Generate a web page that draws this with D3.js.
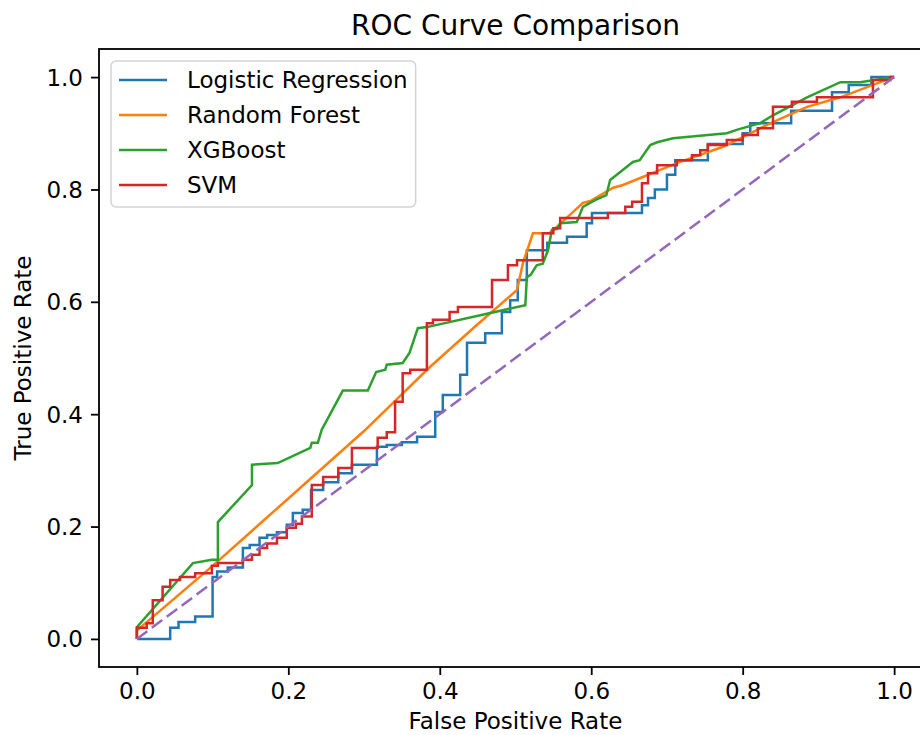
<!DOCTYPE html>
<html>
<head>
<meta charset="utf-8">
<script src="https://cdn.jsdelivr.net/npm/d3@7"></script>
<style>
  body { margin: 0; background: #fff; }
  text { font-family: "DejaVu Sans", sans-serif; fill: #000; }
</style>
</head>
<body>
<div class="canvas"></div>
<script>
// ROC points as [fpr, tpr]
const lrRoc = [[0,0],[0.044,0],[0.044,0.02],[0.055,0.02],[0.055,0.03],[0.077,0.03],[0.077,0.04],[0.1,0.04],[0.1,0.11],
  [0.106,0.11],[0.106,0.12],[0.12,0.12],[0.12,0.127],[0.14,0.127],[0.14,0.162],[0.149,0.162],[0.149,0.167],[0.162,0.167],
  [0.162,0.18],[0.172,0.18],[0.172,0.185],[0.185,0.185],[0.185,0.19],[0.198,0.19],[0.198,0.203],[0.206,0.203],[0.206,0.224],
  [0.219,0.224],[0.219,0.23],[0.23,0.23],[0.23,0.265],[0.246,0.265],[0.246,0.279],[0.266,0.279],[0.266,0.295],[0.284,0.295],
  [0.284,0.31],[0.317,0.31],[0.317,0.342],[0.33,0.342],[0.33,0.345],[0.35,0.345],[0.35,0.35],[0.37,0.35],[0.37,0.36],
  [0.394,0.36],[0.394,0.404],[0.404,0.404],[0.404,0.434],[0.427,0.434],[0.427,0.47],[0.436,0.47],[0.436,0.527],[0.46,0.527],
  [0.46,0.544],[0.482,0.544],[0.482,0.582],[0.493,0.582],[0.493,0.603],[0.503,0.603],[0.503,0.639],[0.515,0.639],[0.515,0.692],
  [0.542,0.692],[0.542,0.705],[0.568,0.705],[0.568,0.716],[0.594,0.716],[0.594,0.74],[0.601,0.74],[0.601,0.758],[0.667,0.758],
  [0.667,0.772],[0.675,0.772],[0.675,0.785],[0.684,0.785],[0.684,0.8],[0.70,0.8],[0.70,0.826],[0.711,0.826],[0.711,0.852],
  [0.754,0.852],[0.754,0.881],[0.80,0.881],[0.80,0.9],[0.81,0.9],[0.81,0.918],[0.864,0.918],[0.864,0.94],[0.918,0.94],
  [0.918,0.973],[0.94,0.973],[0.94,0.986],[0.97,0.986],[0.97,1],[1,1]];

const rfRoc = [[0,0],[0,0.015],[0.1,0.13],[0.2,0.25],[0.3,0.37],[0.387,0.484],[0.45,0.56],[0.502,0.621],[0.51,0.67],
  [0.523,0.722],[0.545,0.722],[0.56,0.74],[0.589,0.776],[0.6,0.78],[0.629,0.803],[0.642,0.808],[0.664,0.82],[0.691,0.835],
  [0.713,0.847],[0.774,0.876],[0.81,0.9],[0.84,0.92],[0.885,0.947],[0.929,0.964],[0.972,0.986],[1,1]];

const xgbRoc = [[0,0],[0,0.021],[0.074,0.135],[0.099,0.141],[0.107,0.141],[0.107,0.208],[0.152,0.274],[0.152,0.31],
  [0.186,0.313],[0.229,0.34],[0.231,0.349],[0.239,0.349],[0.244,0.372],[0.272,0.442],[0.305,0.442],[0.316,0.475],
  [0.328,0.479],[0.33,0.488],[0.351,0.491],[0.36,0.509],[0.371,0.553],[0.383,0.555],[0.513,0.594],[0.515,0.644],
  [0.52,0.648],[0.528,0.665],[0.536,0.668],[0.543,0.692],[0.548,0.728],[0.555,0.73],[0.559,0.74],[0.581,0.742],
  [0.589,0.769],[0.605,0.781],[0.62,0.79],[0.625,0.817],[0.655,0.849],[0.664,0.852],[0.678,0.879],[0.687,0.884],
  [0.708,0.891],[0.779,0.9],[0.792,0.906],[0.823,0.918],[0.84,0.932],[0.885,0.964],[0.929,0.991],[0.955,0.991],[1,1]];

const svmRoc = [[0,0],[0,0.02],[0.013,0.02],[0.013,0.028],[0.021,0.028],[0.021,0.069],[0.034,0.069],[0.034,0.093],
  [0.044,0.093],[0.044,0.105],[0.057,0.105],[0.057,0.11],[0.077,0.11],[0.077,0.117],[0.099,0.117],[0.099,0.13],
  [0.107,0.13],[0.107,0.135],[0.14,0.135],[0.14,0.141],[0.152,0.141],[0.152,0.15],[0.162,0.15],[0.162,0.162],
  [0.172,0.162],[0.172,0.17],[0.185,0.17],[0.185,0.18],[0.198,0.18],[0.198,0.198],[0.21,0.198],[0.21,0.205],
  [0.218,0.205],[0.218,0.218],[0.231,0.218],[0.231,0.274],[0.246,0.274],[0.246,0.288],[0.266,0.288],[0.266,0.304],
  [0.284,0.304],[0.284,0.34],[0.318,0.34],[0.318,0.358],[0.33,0.358],[0.33,0.368],[0.341,0.368],[0.341,0.422],
  [0.351,0.422],[0.351,0.473],[0.361,0.473],[0.361,0.479],[0.383,0.479],[0.383,0.562],[0.391,0.562],[0.391,0.568],
  [0.413,0.568],[0.413,0.582],[0.424,0.582],[0.424,0.591],[0.469,0.591],[0.469,0.639],[0.49,0.639],[0.49,0.665],
  [0.502,0.665],[0.502,0.674],[0.536,0.674],[0.536,0.722],[0.55,0.722],[0.55,0.731],[0.559,0.731],[0.559,0.749],
  [0.622,0.749],[0.622,0.758],[0.645,0.758],[0.645,0.769],[0.654,0.769],[0.654,0.778],[0.667,0.778],[0.667,0.811],
  [0.675,0.811],[0.675,0.829],[0.687,0.829],[0.687,0.843],[0.713,0.843],[0.713,0.852],[0.733,0.852],[0.733,0.861],
  [0.744,0.861],[0.744,0.87],[0.754,0.87],[0.754,0.879],[0.779,0.879],[0.779,0.888],[0.80,0.888],[0.80,0.897],
  [0.82,0.897],[0.82,0.909],[0.84,0.909],[0.84,0.947],[0.865,0.947],[0.865,0.956],[0.898,0.956],[0.898,0.964],
  [0.972,0.964],[0.972,0.995],[0.995,0.995],[0.995,1],[1,1]];

const chanceLine = [[0,0],[1,1]];

const modelNames = ['Logistic Regression', 'Random Forest', 'XGBoost', 'SVM'];
const modelCurves = [lrRoc, rfRoc, xgbRoc, svmRoc];
const modelColors = ['#1f77b4', '#ff7f0e', '#2ca02c', '#d62728'];
const xTicks = [0, 0.2, 0.4, 0.6, 0.8, 1.0];
const yTicks = [0, 0.2, 0.4, 0.6, 0.8, 1.0];

const svgWidth = 920;
const svgHeight = 735;
const fs = 23;       // tick / label font size
const lw = 2.5;      // line width

// axes box (right spine falls just outside the picture, as in the reference)
const box = { left: 99, right: 932, top: 49, bottom: 667 };

const x = d3.scaleLinear().domain([-0.05, 1.05]).range([box.left, box.right]);
const y = d3.scaleLinear().domain([-0.05, 1.05]).range([box.bottom, box.top]);

const svg = d3.select('.canvas').append('svg')
  .attr('width', svgWidth)
  .attr('height', svgHeight);

svg.append('defs').append('clipPath').attr('id', 'clip')
  .append('rect')
  .attr('x', box.left).attr('y', box.top)
  .attr('width', box.right - box.left).attr('height', box.bottom - box.top);

const line = d3.line().x(d => x(d[0])).y(d => y(d[1]));

const plot = svg.append('g').attr('clip-path', 'url(#clip)');

modelCurves.forEach((curve, i) => {
  plot.append('path')
    .datum(curve)
    .attr('d', line)
    .attr('fill', 'none')
    .attr('stroke', modelColors[i])
    .attr('stroke-width', lw)
    .attr('stroke-linejoin', 'miter')
    .attr('stroke-linecap', 'butt');
});

plot.append('path')
  .datum(chanceLine)
  .attr('d', line)
  .attr('fill', 'none')
  .attr('stroke', '#9467bd')
  .attr('stroke-width', lw)
  .attr('stroke-dasharray', '13,5.6');

// axes
const xAxis = d3.axisBottom(x).tickValues(xTicks).tickFormat(d3.format('.1f'))
  .tickSize(8).tickPadding(6).tickSizeOuter(0);
const yAxis = d3.axisLeft(y).tickValues(yTicks).tickFormat(d3.format('.1f'))
  .tickSize(8).tickPadding(8).tickSizeOuter(0);

const xAxisGroup = svg.append('g').attr('transform', `translate(0, ${box.bottom})`).call(xAxis);
const yAxisGroup = svg.append('g').attr('transform', `translate(${box.left}, 0)`).call(yAxis);

[xAxisGroup, yAxisGroup].forEach(g => {
  g.select('.domain').remove();
  g.selectAll('.tick line').attr('stroke', '#000').attr('stroke-width', 1.8);
  g.selectAll('.tick text')
    .attr('font-family', '"DejaVu Sans", sans-serif')
    .attr('font-size', fs)
    .attr('fill', '#000');
});
xAxisGroup.selectAll('.tick text').attr('dy', '0.71em').attr('y', 16);
yAxisGroup.selectAll('.tick text').attr('dy', '0.35em');

// spines
svg.append('rect')
  .attr('x', box.left).attr('y', box.top)
  .attr('width', box.right - box.left).attr('height', box.bottom - box.top)
  .attr('fill', 'none')
  .attr('stroke', '#000')
  .attr('stroke-width', 1.8);

// title and labels
svg.append('text')
  .attr('x', (box.left + box.right) / 2)
  .attr('y', 35)
  .attr('text-anchor', 'middle')
  .attr('font-size', 28)
  .text('ROC Curve Comparison');

svg.append('text')
  .attr('x', (box.left + box.right) / 2)
  .attr('y', 729)
  .attr('text-anchor', 'middle')
  .attr('font-size', fs)
  .text('False Positive Rate');

svg.append('text')
  .attr('transform', `translate(31, ${(box.top + box.bottom) / 2}) rotate(-90)`)
  .attr('text-anchor', 'middle')
  .attr('font-size', fs)
  .text('True Positive Rate');

// legend
const legend = svg.append('g');
const lgX = 111, lgY = 61, rowH = 35;
const frame = legend.append('rect')
  .attr('x', lgX).attr('y', lgY)
  .attr('rx', 5).attr('ry', 5)
  .attr('fill', 'rgba(255,255,255,0.8)')
  .attr('stroke', '#d3d3d3')
  .attr('stroke-width', 1.5);

let maxW = 0;
modelNames.forEach((name, i) => {
  const cy = lgY + 19 + i * rowH;
  legend.append('line')
    .attr('x1', lgX + 8).attr('x2', lgX + 56)
    .attr('y1', cy).attr('y2', cy)
    .attr('stroke', modelColors[i])
    .attr('stroke-width', lw);
  const t = legend.append('text')
    .attr('x', lgX + 76)
    .attr('y', cy)
    .attr('dy', '0.35em')
    .attr('font-size', fs)
    .text(name);
  maxW = Math.max(maxW, t.node().getComputedTextLength());
});
frame.attr('width', 76 + maxW + 8).attr('height', 146);
</script>
</body>
</html>
